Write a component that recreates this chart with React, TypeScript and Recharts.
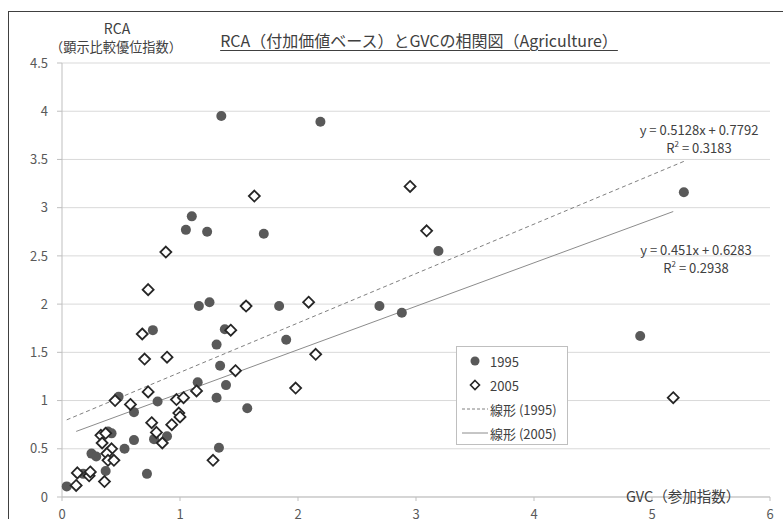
import { ScatterChart, Scatter, XAxis, YAxis, CartesianGrid } from "recharts";

// GVC participation index (x) and value-added RCA (y)
const gvc1995 = [0.04, 0.18, 0.25, 0.29, 0.37, 0.39, 0.42, 0.48, 0.53, 0.61, 0.61, 0.72, 0.78, 0.81, 0.89, 0.77, 1.15, 1.31, 1.33, 1.39, 1.34, 1.31, 1.38, 1.57, 1.16, 1.25, 1.56, 1.84, 1.9, 1.05, 1.1, 1.23, 1.71, 1.35, 2.19, 2.69, 2.88, 3.19, 5.27, 4.9];
const rca1995 = [0.11, 0.24, 0.45, 0.42, 0.27, 0.68, 0.66, 1.04, 0.5, 0.88, 0.59, 0.24, 0.6, 0.99, 0.63, 1.73, 1.19, 1.03, 0.51, 1.16, 1.36, 1.58, 1.74, 0.92, 1.98, 2.02, 1.98, 1.98, 1.63, 2.77, 2.91, 2.75, 2.73, 3.95, 3.89, 1.98, 1.91, 2.55, 3.16, 1.67];

const gvc2005 = [0.12, 0.13, 0.23, 0.24, 0.33, 0.37, 0.34, 0.42, 0.38, 0.39, 0.44, 0.36, 0.45, 0.58, 0.73, 0.76, 0.8, 0.85, 0.93, 0.99, 1.0, 0.97, 1.03, 1.14, 1.28, 0.68, 0.7, 0.89, 0.73, 0.88, 1.43, 1.47, 1.56, 1.63, 1.98, 2.09, 2.15, 2.95, 3.09, 5.18];
const rca2005 = [0.12, 0.25, 0.22, 0.26, 0.64, 0.66, 0.56, 0.5, 0.45, 0.38, 0.38, 0.16, 1.0, 0.96, 1.09, 0.77, 0.67, 0.56, 0.75, 0.87, 0.83, 1.01, 1.03, 1.1, 0.38, 1.69, 1.43, 1.45, 2.15, 2.54, 1.73, 1.31, 1.98, 3.12, 1.13, 2.02, 1.48, 3.22, 2.76, 1.03];

// trendline end points (linear fits shown on the chart)
const trendX1995 = [0.04, 5.27];
const trendY1995 = [0.8, 3.48];
const trendX2005 = [0.12, 5.18];
const trendY2005 = [0.68, 2.96];

const xTicks = [0, 1, 2, 3, 4, 5, 6];
const yTicks = [0, 0.5, 1, 1.5, 2, 2.5, 3, 3.5, 4, 4.5];

const toPoints = (xs: number[], ys: number[]) => xs.map((x, i) => ({ x, y: ys[i] }));

const pts1995 = toPoints(gvc1995, rca1995);
const pts2005 = toPoints(gvc2005, rca2005);
const line1995 = toPoints(trendX1995, trendY1995);
const line2005 = toPoints(trendX2005, trendY2005);

const FONT = "'Noto Sans CJK JP', 'Noto Sans', sans-serif";
const TEXT = "#404040";

const Dot = (p: any) => <circle cx={p.cx} cy={p.cy} r={5} fill="#595959" />;
const Diamond = (p: any) => {
  const s = 5.5;
  return (
    <polygon
      points={`${p.cx},${p.cy - s} ${p.cx + s},${p.cy} ${p.cx},${p.cy + s} ${p.cx - s},${p.cy}`}
      fill="#fff"
      stroke="#262626"
      strokeWidth={1.8}
    />
  );
};
const NoShape = () => <g />;

const centered = (x: number, y: number, size: number, extra: any = {}) => ({
  position: "absolute" as const,
  left: x,
  top: y,
  transform: "translate(-50%, -50%)",
  fontSize: size,
  lineHeight: 1,
  whiteSpace: "nowrap" as const,
  color: TEXT,
  ...extra,
});

function LegendBox() {
  const row = { display: "flex", alignItems: "center", height: 24 };
  const mark = { width: 30, display: "flex", justifyContent: "center" };
  return (
    <div style={{ position: "absolute", left: 456, top: 346, width: 112, height: 99, border: "1px solid #bfbfbf", background: "#fff", boxSizing: "border-box", padding: "2px 0 0 3px", fontSize: 13, color: TEXT }}>
      <div style={row}>
        <div style={mark}><svg width={12} height={12}><circle cx={6} cy={6} r={4.5} fill="#595959" /></svg></div>
        <span>1995</span>
      </div>
      <div style={row}>
        <div style={mark}><svg width={12} height={12}><polygon points="6,1.5 10.5,6 6,10.5 1.5,6" fill="#fff" stroke="#262626" strokeWidth={1.6} /></svg></div>
        <span>2005</span>
      </div>
      <div style={row}>
        <div style={mark}><svg width={28} height={4}><line x1={1} y1={2} x2={27} y2={2} stroke="#808080" strokeDasharray="3 2" /></svg></div>
        <span>線形 (1995)</span>
      </div>
      <div style={row}>
        <div style={mark}><svg width={28} height={4}><line x1={1} y1={2} x2={27} y2={2} stroke="#8c8c8c" /></svg></div>
        <span>線形 (2005)</span>
      </div>
    </div>
  );
}

export default function App() {
  const tick = { fontSize: 13, fill: "#595959", fontFamily: FONT };
  return (
    <div style={{ position: "fixed", left: 0, top: 0, width: 783, height: 519, overflow: "hidden", background: "#fff", fontFamily: FONT }}>
      <div style={{ position: "absolute", left: 8, top: 11, width: 820, height: 560, border: "1px solid #404040" }} />
      <div style={{ position: "absolute", left: 0, top: 0 }}>
        <ScatterChart width={783} height={519} margin={{ top: 63, right: 13, left: 12, bottom: 0 }}>
          <CartesianGrid vertical={false} stroke="#d9d9d9" />
          <XAxis
            type="number"
            dataKey="x"
            domain={[0, 6]}
            ticks={xTicks}
            height={22}
            tick={tick}
            tickSize={4}
            tickMargin={9}
            stroke="#bfbfbf"
            interval={0}
          />
          <YAxis
            type="number"
            dataKey="y"
            domain={[0, 4.5]}
            ticks={yTicks}
            width={50}
            tick={tick}
            tickSize={5}
            tickMargin={9}
            stroke="#bfbfbf"
            interval={0}
          />
          <Scatter data={line1995} shape={NoShape} line={{ stroke: "#808080", strokeWidth: 1, strokeDasharray: "4 3" }} isAnimationActive={false} />
          <Scatter data={line2005} shape={NoShape} line={{ stroke: "#8c8c8c", strokeWidth: 1 }} isAnimationActive={false} />
          <Scatter data={pts1995} shape={Dot} isAnimationActive={false} />
          <Scatter data={pts2005} shape={Diamond} isAnimationActive={false} />
        </ScatterChart>
      </div>

      <div style={centered(419, 40, 16, { textDecoration: "underline", textUnderlineOffset: 3 })}>
        RCA（付加価値ベース）とGVCの相関図（Agriculture）
      </div>
      <div style={centered(117, 28, 14)}>RCA</div>
      <div style={centered(116, 47, 13.2)}>（顕示比較優位指数）</div>
      <div style={{ position: "absolute", left: 626, top: 496, transform: "translateY(-50%)", fontSize: 14.5, lineHeight: 1, color: TEXT, whiteSpace: "nowrap" }}>
        GVC（参加指数）
      </div>

      <div style={centered(699, 129, 13)}>y = 0.5128x + 0.7792</div>
      <div style={centered(699, 147, 13)}>R<sup style={{ fontSize: 8 }}>2</sup> = 0.3183</div>
      <div style={centered(696, 249, 13)}>y = 0.451x + 0.6283</div>
      <div style={centered(696, 267, 13)}>R<sup style={{ fontSize: 8 }}>2</sup> = 0.2938</div>

      <LegendBox />
    </div>
  );
}
